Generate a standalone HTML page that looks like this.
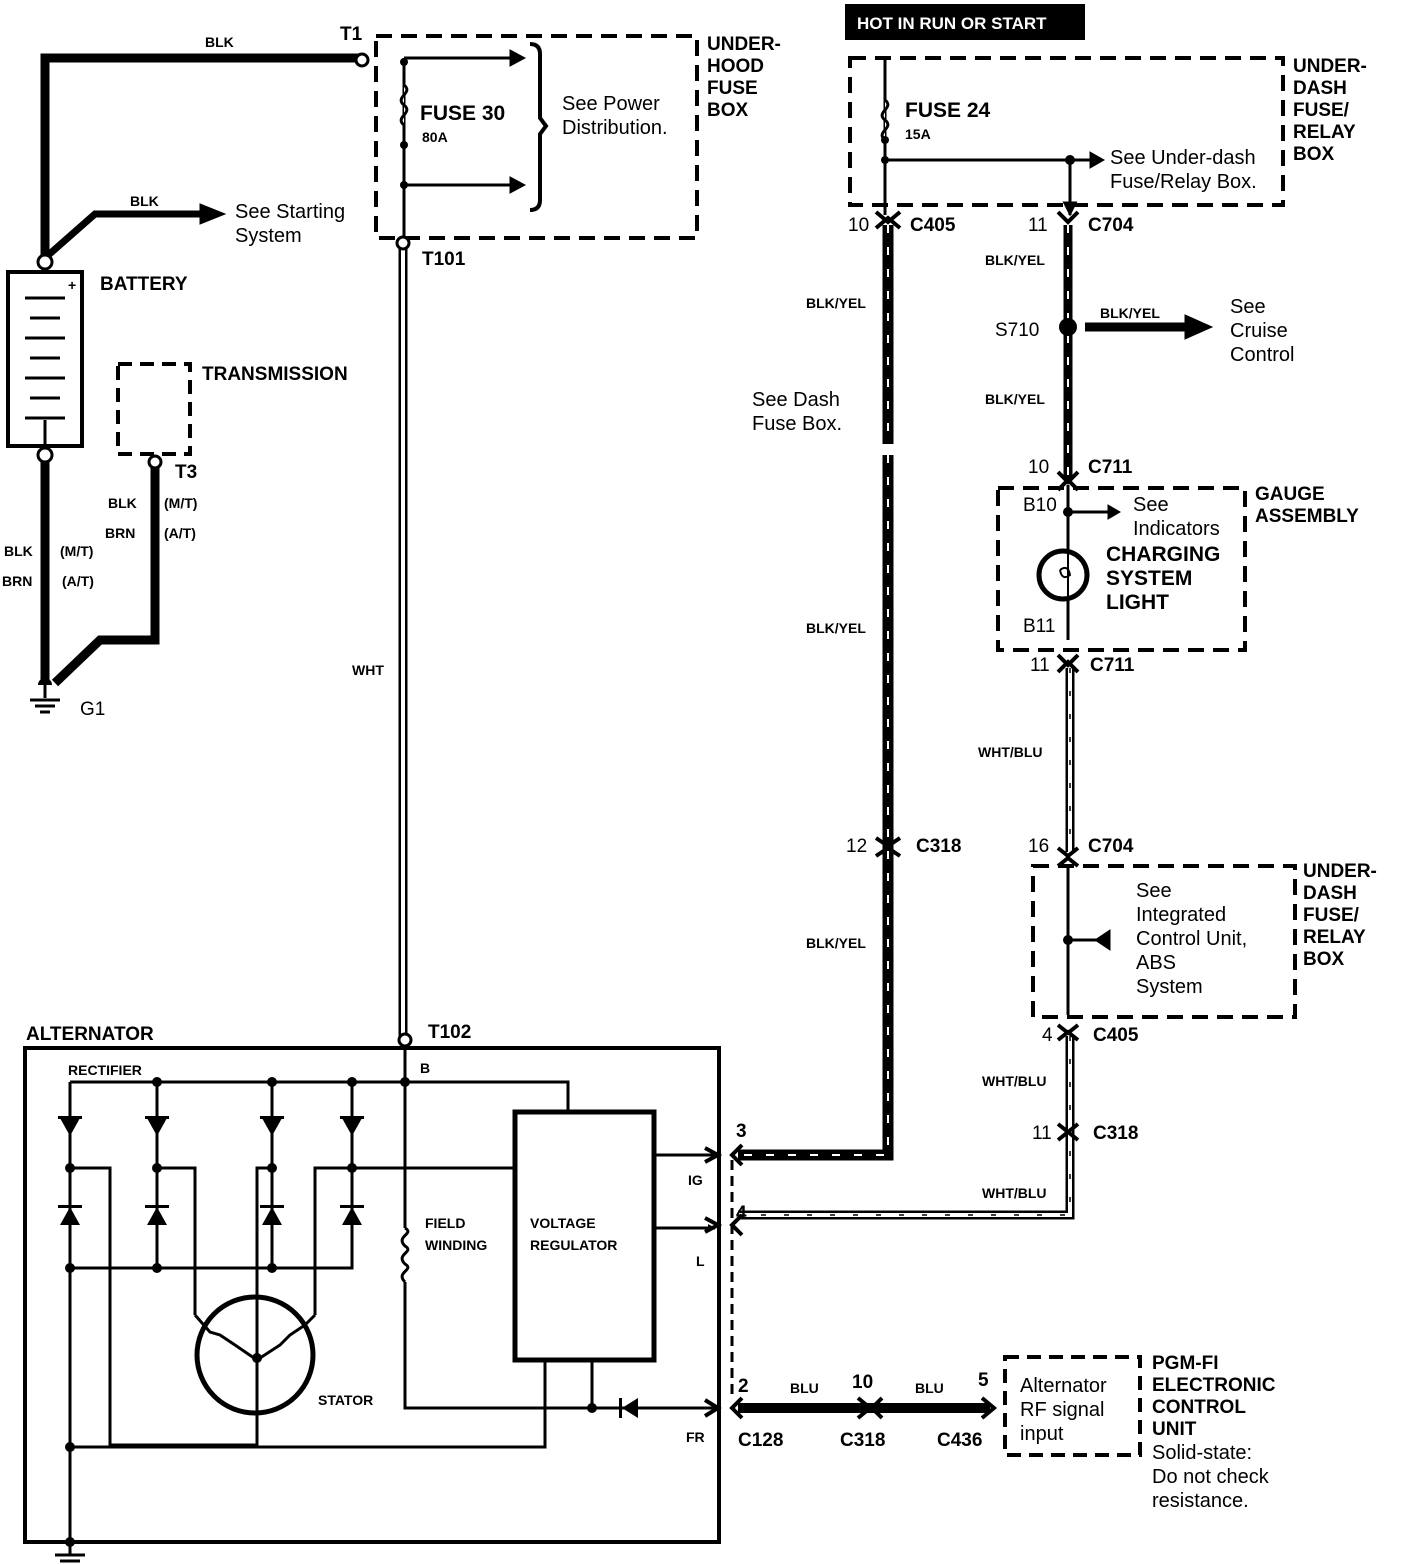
<!DOCTYPE html>
<html><head><meta charset="utf-8"><style>
body{margin:0;background:#fff}
svg{display:block}
text{font-family:"Liberation Sans",sans-serif;font-weight:bold;fill:#000}
.s{font-size:19px}.xs{font-size:14px}.m{font-size:20px;font-weight:normal}
</style></head><body>
<svg width="1408" height="1564" viewBox="0 0 1408 1564" xmlns="http://www.w3.org/2000/svg">
<defs>
<marker id="a" viewBox="0 0 10 10" refX="9" refY="5" markerWidth="5" markerHeight="5" orient="auto"><path d="M0,0L10,5L0,10z"/></marker>
<marker id="b" viewBox="0 0 10 10" refX="9" refY="5" markerWidth="8" markerHeight="8" orient="auto" markerUnits="userSpaceOnUse"><path d="M0,0L10,5L0,10z"/></marker>
</defs>
<g fill="none" stroke="#000">
<!-- battery wiring -->
<path d="M45,262V58H362" stroke-width="9"/>
<path d="M45,258L95,214H205" stroke-width="7"/>
<path d="M200,204L225,214L200,224z" fill="#000"/>
<rect x="8" y="272" width="74" height="174" stroke-width="4"/>
<g stroke-width="3"><path d="M25,298H65M30,318H60M25,338H65M30,358H60M25,378H65M30,398H60M25,418H65M45,446V420"/></g>
<path d="M45,458V682" stroke-width="9"/>
<path d="M155,466V640L100,640L55,683" stroke-width="9"/>
<rect x="118" y="364" width="72" height="90" stroke-width="4" stroke-dasharray="14,8"/>
<!-- ground G1 -->
<path d="M45,683V698M30,700H60M35,706H55M40,712H50" stroke-width="3"/>
<!-- underhood fuse box -->
<rect x="376" y="36" width="321" height="202" stroke-width="4" stroke-dasharray="16,9"/>
<path d="M404,58V240M404,58H518M404,185H518" stroke-width="3"/>
<path d="M404,85c10,8 -10,12 0,20c10,8 -10,12 0,20" stroke-width="3" fill="#fff"/>
<path d="M510,50L525,58L510,66zM510,177L525,185L510,193z" fill="#000"/>
<path d="M530,44Q540,44 540,54V118L546,126L540,134V200Q540,210 530,210" stroke-width="4"/>
<path d="M403,248V1036" stroke-width="9"/><path d="M403,248V1036" stroke-width="4" stroke="#fff"/>
<!-- right top fuse box -->
<rect x="850" y="58" width="433" height="147" stroke-width="4" stroke-dasharray="16,9"/>
<path d="M885,60V215M885,160H1098M1070,160V215" stroke-width="3" marker-end="url(#a)"/>
<path d="M885,100c10,8 -10,12 0,20c10,8 -10,12 0,20" stroke-width="3" fill="#fff"/>
<path d="M1090,152L1104,160L1090,168z" fill="#000"/>
<!-- main BLK/YEL wire -->
<g stroke-width="11"><path d="M888,225V445"/><path d="M888,455V1155H738"/></g>
<g stroke="#fff" stroke-width="2" stroke-dasharray="8,14"><path d="M888,225V445"/><path d="M888,455V1155H738"/></g>
<path d="M878,448H898" stroke="#fff" stroke-width="8"/>
<!-- x=1068 wire -->
<path d="M1068,225V480" stroke-width="9"/>
<path d="M1068,225V480" stroke="#fff" stroke-width="2" stroke-dasharray="8,14"/>
<path d="M1085,327H1195" stroke-width="9"/>
<path d="M1185,315L1212,327L1185,339z" fill="#000"/>
<!-- gauge -->
<rect x="998" y="488" width="247" height="162" stroke-width="4" stroke-dasharray="16,9"/>
<path d="M1068,485V640M1068,512H1115" stroke-width="3"/>
<path d="M1108,505L1120,512L1108,519z" fill="#000"/>
<circle cx="1063" cy="575" r="24" stroke-width="5" fill="#fff"/>
<path d="M1068,552V598M1060,570q8,-6 10,5q-8,6 -10,-5" stroke-width="2"/>
<!-- WHT/BLU wires -->
<g stroke-width="9"><path d="M1070,668V852"/><path d="M1070,1036V1215H738"/></g>
<g stroke="#fff" stroke-width="4"><path d="M1070,668V852"/><path d="M1070,1036V1215H738"/></g>
<g stroke-width="1.5" stroke-dasharray="5,18"><path d="M1070,668V852"/><path d="M1070,1036V1215H738"/></g>
<!-- underdash box 2 -->
<rect x="1033" y="866" width="262" height="151" stroke-width="4" stroke-dasharray="16,9"/>
<path d="M1068,866V1015M1068,940H1110" stroke-width="3"/>
<path d="M1110,930L1095,940L1110,950z" fill="#000"/>
<!-- connectors -->
<g stroke-width="4">
<path d="M876,212L888,222L900,212M876,228L888,218L900,228"/>
<path d="M1058,212L1068,222L1078,212"/>
<path d="M1058,472L1068,482L1078,472M1058,490L1068,480L1078,490"/>
<path d="M1058,655L1068,665L1078,655M1058,672L1068,662L1078,672"/>
<path d="M876,838L888,846L900,838M876,856L888,848L900,856"/>
<path d="M1058,848L1068,856L1078,848M1058,866L1068,858L1078,866"/>
<path d="M1058,1025L1068,1033L1078,1025M1058,1040L1068,1032L1078,1040"/>
<path d="M1058,1124L1068,1132L1078,1124M1058,1140L1068,1132L1078,1140"/>
<path d="M705,1148L718,1155L705,1162M742,1145L732,1155L742,1165"/>
<path d="M705,1218L718,1225L705,1232M742,1215L732,1225L742,1235"/>
<path d="M705,1400L718,1408L705,1416M742,1398L732,1408L742,1418"/>
<path d="M858,1398L870,1408L858,1418M882,1398L872,1408L882,1418"/>
<path d="M982,1398L994,1408L982,1418"/>
</g>
<path d="M732,1160V1400" stroke-width="3" stroke-dasharray="10,6"/>
<path d="M738,1408H990" stroke-width="10"/>
<rect x="1005" y="1357" width="135" height="98" stroke-width="4" stroke-dasharray="14,8"/>
<!-- alternator -->
<rect x="25" y="1048" width="694" height="494" stroke-width="4"/>
<g stroke-width="3">
<path d="M70,1082H568V1112M70,1082V1268H352V1082M157,1082V1268M272,1082V1268M352,1082V1268"/>
<path d="M70,1168H110V1445H257V1412M157,1168H195V1315M257,1355V1168H272M352,1168H315V1315M352,1168H515"/>
<path d="M405,1040V1228M405,1282V1408H718M592,1360V1408M545,1360V1447H70M70,1268V1545"/>
<path d="M405,1228c10,6 -10,8 0,18c10,6 -10,8 0,18c10,6 -10,8 0,18" />
<path d="M654,1155H715M654,1228H715" marker-end="url(#b)"/>
<path d="M718,1408H660"/>
<path d="M195,1315L210,1332L220,1335L235,1345L257,1360L280,1345L290,1335L305,1325L315,1315M257,1360V1412"/>
</g>
<path d="M655,1408" />
<ellipse cx="255" cy="1355" rx="58" ry="58" stroke-width="5"/>
<rect x="515" y="1112" width="139" height="248" stroke-width="5" fill="#fff"/>
<path d="M70,1545V1555M55,1555H85M60,1561H80" stroke-width="3"/>
</g>
<g fill="#000">
<!-- diodes -->
<path d="M60,1118H80L70,1136zM147,1118H167L157,1136zM262,1118H282L272,1136zM342,1118H362L352,1136z"/>
<path d="M60,1225H80L70,1207zM147,1225H167L157,1207zM262,1225H282L272,1207zM342,1225H362L352,1207z"/>
<rect x="58" y="1116" width="24" height="3"/><rect x="145" y="1116" width="24" height="3"/><rect x="260" y="1116" width="24" height="3"/><rect x="340" y="1116" width="24" height="3"/>
<rect x="58" y="1205" width="24" height="3"/><rect x="145" y="1205" width="24" height="3"/><rect x="260" y="1205" width="24" height="3"/><rect x="340" y="1205" width="24" height="3"/>
<path d="M622,1408L638,1398V1418z"/><rect x="619" y="1398" width="3" height="20"/>
<circle cx="157" cy="1082" r="5"/><circle cx="272" cy="1082" r="5"/><circle cx="352" cy="1082" r="5"/><circle cx="405" cy="1082" r="5"/>
<circle cx="70" cy="1168" r="5"/><circle cx="157" cy="1168" r="5"/><circle cx="272" cy="1168" r="5"/><circle cx="352" cy="1168" r="5"/>
<circle cx="70" cy="1268" r="5"/><circle cx="157" cy="1268" r="5"/><circle cx="272" cy="1268" r="5"/>
<circle cx="257" cy="1358" r="5"/><circle cx="592" cy="1408" r="5"/><circle cx="70" cy="1447" r="5"/><circle cx="70" cy="1542" r="5"/>
<circle cx="404" cy="62" r="4"/><circle cx="404" cy="145" r="4"/><circle cx="404" cy="185" r="4"/>
<circle cx="885" cy="140" r="4"/><circle cx="885" cy="160" r="4"/><circle cx="1070" cy="160" r="5"/>
<circle cx="1068" cy="327" r="9"/><circle cx="1068" cy="512" r="5"/><circle cx="1068" cy="940" r="5"/>
<rect x="845" y="4" width="240" height="36"/>
</g>
<g fill="#fff" stroke="#000" stroke-width="3">
<circle cx="362" cy="60" r="6"/><circle cx="45" cy="262" r="7"/><circle cx="45" cy="455" r="7"/><circle cx="155" cy="462" r="6"/>
<circle cx="403" cy="243" r="6"/><circle cx="405" cy="1040" r="6"/>
</g>
<path d="M38,685a7,7 0 0 1 14,0z" fill="#000"/>
<text x="857" y="29" class="s" style="fill:#fff;font-size:17px">HOT IN RUN OR START</text>
<text x="205" y="47" class="xs">BLK</text><text x="340" y="40" class="s">T1</text>
<text x="130" y="206" class="xs">BLK</text>
<text x="235" y="218" class="m">See Starting</text><text x="235" y="242" class="m">System</text>
<text x="100" y="290" class="s">BATTERY</text>
<text x="68" y="290" class="xs">+</text>
<text x="202" y="380" class="s">TRANSMISSION</text>
<text x="175" y="478" class="s">T3</text>
<text x="108" y="508" class="xs">BLK</text><text x="164" y="508" class="xs">(M/T)</text>
<text x="105" y="538" class="xs">BRN</text><text x="164" y="538" class="xs">(A/T)</text>
<text x="4" y="556" class="xs">BLK</text><text x="60" y="556" class="xs">(M/T)</text>
<text x="2" y="586" class="xs">BRN</text><text x="62" y="586" class="xs">(A/T)</text>
<text x="80" y="715" class="s" style="font-weight:normal">G1</text>
<text x="420" y="120" class="s" style="font-size:21px">FUSE  30</text><text x="422" y="142" class="xs">80A</text>
<text x="562" y="110" class="m">See Power</text><text x="562" y="134" class="m">Distribution.</text>
<text x="707" y="50" class="s">UNDER-</text><text x="707" y="72" class="s">HOOD</text><text x="707" y="94" class="s">FUSE</text><text x="707" y="116" class="s">BOX</text>
<text x="422" y="265" class="s">T101</text>
<text x="352" y="675" class="xs">WHT</text>
<text x="428" y="1038" class="s">T102</text>
<text x="26" y="1040" class="s">ALTERNATOR</text>
<text x="68" y="1075" class="xs">RECTIFIER</text>
<text x="420" y="1073" class="xs">B</text>
<text x="425" y="1228" class="xs">FIELD</text><text x="425" y="1250" class="xs">WINDING</text>
<text x="530" y="1228" class="xs">VOLTAGE</text><text x="530" y="1250" class="xs">REGULATOR</text>
<text x="318" y="1405" class="xs">STATOR</text>
<text x="688" y="1185" class="xs">IG</text><text x="696" y="1266" class="xs">L</text><text x="686" y="1442" class="xs">FR</text>
<text x="905" y="117" class="s" style="font-size:21px">FUSE  24</text><text x="905" y="139" class="xs">15A</text>
<text x="1110" y="164" class="m">See Under-dash</text><text x="1110" y="188" class="m">Fuse/Relay Box.</text>
<text x="1293" y="72" class="s">UNDER-</text><text x="1293" y="94" class="s">DASH</text><text x="1293" y="116" class="s">FUSE/</text><text x="1293" y="138" class="s">RELAY</text><text x="1293" y="160" class="s">BOX</text>
<text x="848" y="231" class="s" style="font-weight:normal">10</text><text x="910" y="231" class="s">C405</text>
<text x="1028" y="231" class="s" style="font-weight:normal">11</text><text x="1088" y="231" class="s">C704</text>
<text x="985" y="265" class="xs">BLK/YEL</text>
<text x="806" y="308" class="xs">BLK/YEL</text>
<text x="995" y="336" class="s" style="font-weight:normal">S710</text>
<text x="1100" y="318" class="xs">BLK/YEL</text>
<text x="1230" y="313" class="m">See</text><text x="1230" y="337" class="m">Cruise</text><text x="1230" y="361" class="m">Control</text>
<text x="985" y="404" class="xs">BLK/YEL</text>
<text x="752" y="406" class="m">See Dash</text><text x="752" y="430" class="m">Fuse Box.</text>
<text x="1028" y="473" class="s" style="font-weight:normal">10</text><text x="1088" y="473" class="s">C711</text>
<text x="1255" y="500" class="s">GAUGE</text><text x="1255" y="522" class="s">ASSEMBLY</text>
<text x="1023" y="511" class="s" style="font-weight:normal">B10</text>
<text x="1133" y="511" class="m">See</text><text x="1133" y="535" class="m">Indicators</text>
<text x="1106" y="561" class="s" style="font-size:21px">CHARGING</text><text x="1106" y="585" class="s" style="font-size:21px">SYSTEM</text><text x="1106" y="609" class="s" style="font-size:21px">LIGHT</text>
<text x="1023" y="632" class="s" style="font-weight:normal">B11</text>
<text x="806" y="633" class="xs">BLK/YEL</text>
<text x="1030" y="671" class="s" style="font-weight:normal">11</text><text x="1090" y="671" class="s">C711</text>
<text x="978" y="757" class="xs">WHT/BLU</text>
<text x="846" y="852" class="s" style="font-weight:normal">12</text><text x="916" y="852" class="s">C318</text>
<text x="1028" y="852" class="s" style="font-weight:normal">16</text><text x="1088" y="852" class="s">C704</text>
<text x="1136" y="897" class="m">See</text><text x="1136" y="921" class="m">Integrated</text><text x="1136" y="945" class="m">Control Unit,</text><text x="1136" y="969" class="m">ABS</text><text x="1136" y="993" class="m">System</text>
<text x="1303" y="877" class="s">UNDER-</text><text x="1303" y="899" class="s">DASH</text><text x="1303" y="921" class="s">FUSE/</text><text x="1303" y="943" class="s">RELAY</text><text x="1303" y="965" class="s">BOX</text>
<text x="806" y="948" class="xs">BLK/YEL</text>
<text x="1042" y="1041" class="s" style="font-weight:normal">4</text><text x="1093" y="1041" class="s">C405</text>
<text x="982" y="1086" class="xs">WHT/BLU</text>
<text x="1032" y="1139" class="s" style="font-weight:normal">11</text><text x="1093" y="1139" class="s">C318</text>
<text x="736" y="1137" class="s">3</text>
<text x="982" y="1198" class="xs">WHT/BLU</text>
<text x="736" y="1219" class="s">4</text>
<text x="738" y="1392" class="s">2</text><text x="790" y="1393" class="xs">BLU</text>
<text x="852" y="1388" class="s">10</text><text x="915" y="1393" class="xs">BLU</text><text x="978" y="1386" class="s">5</text>
<text x="738" y="1446" class="s">C128</text><text x="840" y="1446" class="s">C318</text><text x="937" y="1446" class="s">C436</text>
<text x="1020" y="1392" class="m">Alternator</text><text x="1020" y="1416" class="m">RF signal</text><text x="1020" y="1440" class="m">input</text>
<text x="1152" y="1369" class="s">PGM-FI</text><text x="1152" y="1391" class="s">ELECTRONIC</text><text x="1152" y="1413" class="s">CONTROL</text><text x="1152" y="1435" class="s">UNIT</text>
<text x="1152" y="1459" class="m">Solid-state:</text><text x="1152" y="1483" class="m">Do not check</text><text x="1152" y="1507" class="m">resistance.</text>
</svg>
</body></html>
